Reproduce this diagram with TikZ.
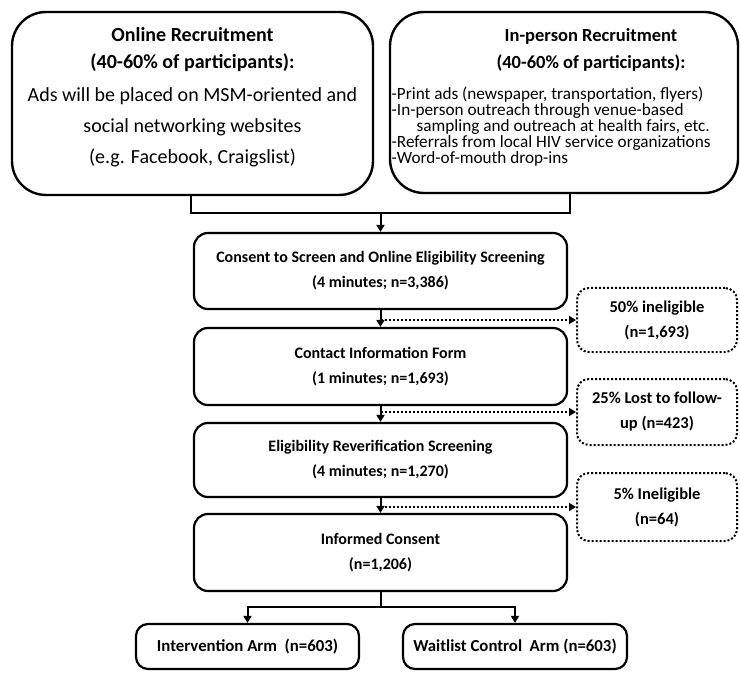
\documentclass[tikz,border=0pt]{standalone}
\usepackage{fontspec}
\setmainfont{Carlito}
\usetikzlibrary{arrows.meta}
\begin{document}
\begin{tikzpicture}[x=1pt,y=-1pt,
  bigbox/.style={draw,line width=2.4pt,rounded corners=34pt,inner sep=0pt},
  mainbox/.style={draw,line width=2.2pt,rounded corners=14pt,minimum width=373pt,inner sep=0pt,align=center,font=\fontsize{16}{25}\selectfont\bfseries},
  dotbox/.style={draw,line width=2pt,dash pattern=on 2pt off 2pt,rounded corners=12pt,minimum width=160pt,inner sep=0pt,align=center,font=\fontsize{16.5}{25}\selectfont\bfseries},
  armbox/.style={draw,line width=2.2pt,rounded corners=12pt,minimum height=45pt,inner sep=0pt,font=\fontsize{16.8}{24}\selectfont\bfseries},
  conn/.style={line width=2pt},
  arr/.style={conn,-{Triangle[width=8pt,length=7pt]}},
  dotarr/.style={line width=2pt,dash pattern=on 2pt off 2pt,-{Triangle[width=8pt,length=7pt]}}
]
\useasboundingbox (0,0) rectangle (740,674);

% top boxes
\node[bigbox,minimum width=361pt,minimum height=183pt] (online) at (192.5,103.5) {};
\node[anchor=north,inner sep=0pt,align=center,font=\fontsize{20}{31}\selectfont] (onlinetxt) at (192.5,27)
  {\textbf{Online Recruitment}\\[-4pt]\textbf{(40-60\% of participants):}\\[2pt]Ads will be placed on MSM-oriented and\\social networking websites\\(e.g. Facebook, Craigslist)};

\node[bigbox,minimum width=348pt,minimum height=181pt] (inperson) at (564,102.5) {};
\node[anchor=north,inner sep=0pt,align=center,font=\fontsize{18.5}{27}\selectfont\bfseries] (inpersontitle) at (591,28)
  {In-person Recruitment\\(40-60\% of participants):};
\node[anchor=north west,inner sep=0pt,align=left,font=\fontsize{17.2}{16}\selectfont] (inpersontxt) at (391.5,86.5)
  {-Print ads (newspaper, transportation, flyers)\\-In-person outreach through venue-based\\\hspace*{25pt}sampling and outreach at health fairs, etc.\\-Referrals from local HIV service organizations\\-Word-of-mouth drop-ins};

% main stack
\node[mainbox,minimum height=76pt] (consent) at (380.5,271) {Consent to Screen and Online Eligibility Screening\\(4 minutes; n=3,386)};
\node[mainbox,minimum height=77pt] (contact) at (380.5,366.5) {Contact Information Form\\(1 minutes; n=1,693)};
\node[mainbox,minimum height=74pt] (reverif) at (380.5,460) {Eligibility Reverification Screening\\(4 minutes; n=1,270)};
\node[mainbox,minimum height=77pt] (informed) at (380.5,552.5) {Informed Consent\\(n=1,206)};

% dotted side boxes
\node[dotbox,minimum height=64pt] (d1) at (657,320) {50\% ineligible\\(n=1,693)};
\node[dotbox,minimum height=66pt] (d2) at (657,412) {25\% Lost to follow-\\up (n=423)};
\node[dotbox,minimum height=68pt] (d3) at (657,507) {5\% Ineligible\\(n=64)};

% arms
\node[armbox,minimum width=223pt] (arm1) at (247.5,646.5) {Intervention Arm\ \ (n=603)};
\node[armbox,minimum width=224pt] (arm2) at (515,646.5) {Waitlist Control\ \ Arm (n=603)};

% connectors
\coordinate (bl) at (191,213);
\coordinate (br) at (570,213);
\coordinate (bj) at (380.5,213);
\draw[conn] (online.south -| bl) -- (bl) -- (br) -- (br |- inperson.south);
\draw[arr] (bj) -- (consent.north);
\draw[arr] (consent.south) -- (contact.north);
\draw[arr] (contact.south) -- (reverif.north);
\draw[arr] (reverif.south) -- (informed.north);
\draw[dotarr] (consent.south |- d1.west) -- (d1.west);
\draw[dotarr] (contact.south |- d2.west) -- (d2.west);
\draw[dotarr] (reverif.south |- d3.west) -- (d3.west);
\coordinate (sp) at (380.5,607);
\draw[arr] (informed.south) -- (sp) -| (arm1.north);
\draw[arr] (sp) -| (arm2.north);
\end{tikzpicture}
\end{document}
